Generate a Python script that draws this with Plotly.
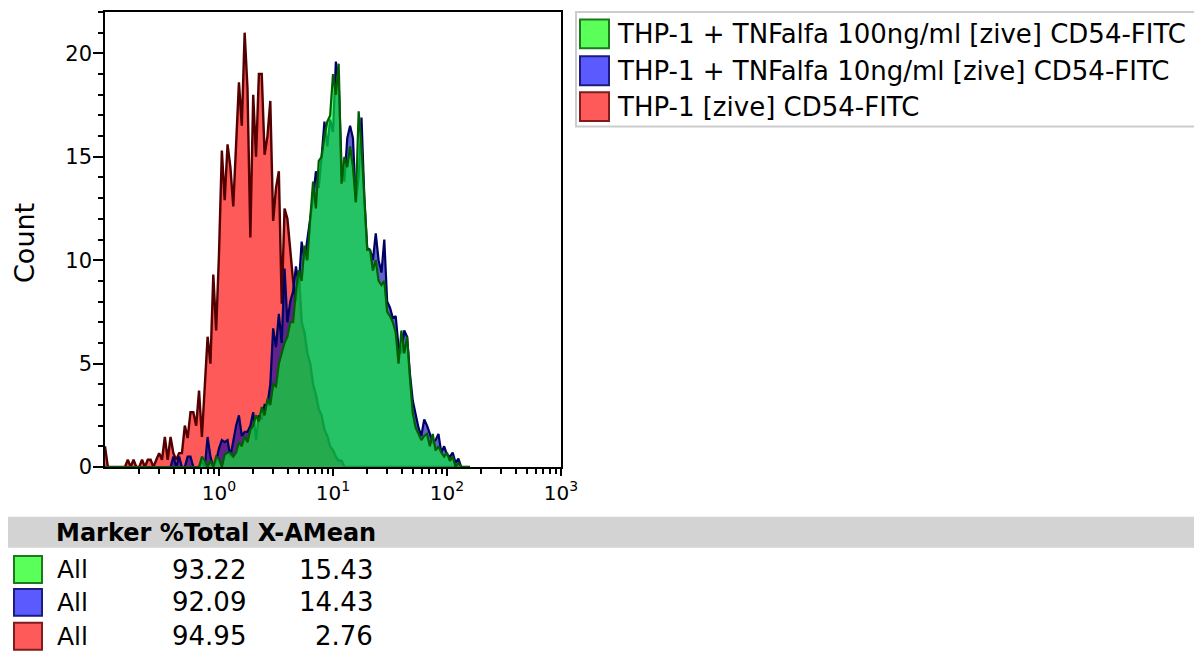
import plotly.graph_objects as go

# ---------------- data ----------------
# histogram channels (log-spaced, 0.025 decade per channel, from 10^-1)
channels = [round(10 ** (-1 + 0.025 * i), 5) for i in range(129)]

red_counts = [1.0, 0, 0, 0, 0, 0, 0, 0, 0.35, 0, 0.35, 0, 0, 0.35, 0, 0.35, 0.35, 0, 0.35, 0.67,
              0.35, 1.45, 0.35, 1.45, 0.67, 0.35, 0.67, 0.67, 2.0, 1.4, 2.65, 2.65, 2.0, 3.7, 1.45, 4.0,
              6.3, 5.0, 9.3, 6.6, 10.3, 15.3, 12.9, 15.6, 14.5, 12.6, 15.6, 18.6, 16.5, 21.0, 18.3, 11.1,
              18.0, 15.0, 19.0, 19.0, 15.1, 16.0, 17.7, 11.9, 13.5, 14.3, 7.9, 12.5, 12.0, 10.4, 9.0, 8.0,
              9.5, 7.0, 6.5, 5.5, 5.0, 4.0, 3.5, 2.8, 2.5, 1.8, 1.5, 1.0, 0.8, 0.5, 0.3, 0.3,
              0, 0, 0, 0, 0, 0, 0, 0, 0, 0, 0, 0, 0, 0, 0, 0, 0, 0, 0, 0, 0, 0, 0, 0, 0, 0, 0, 0, 0, 0,
              0, 0, 0, 0, 0, 0, 0, 0, 0, 0, 0, 0, 0, 0, 0]

blue_counts = [0, 0, 0, 0, 0, 0, 0, 0, 0, 0, 0, 0, 0, 0, 0, 0, 0, 0, 0, 0, 0, 0, 0, 0,
               0.5, 0, 0.5, 0, 0, 0.5, 0.5, 0, 0, 0, 0.3, 0, 1.45, 0.5, 0, 0.3, 0.9, 1.3, 1.2, 1.3,
               0.5, 1.3, 2.0, 2.5, 1.5, 1.7, 1.7, 2.0, 2.65, 1.3, 2.5, 2.3, 3.0, 3.0, 4.0, 6.7, 5.8,
               7.4, 6.0, 9.6, 7.0, 8.0, 8.5, 9.7, 8.8, 10.9, 10.0, 11.0, 12.0, 13.0, 14.3, 13.5, 15.0,
               16.7, 15.5, 16.8, 16.2, 19.6, 18.6, 14.5, 13.8, 15.9, 16.5, 15.9, 12.8, 14.0, 16.9, 13.0,
               10.6, 10.5, 10.0, 11.3, 10.0, 9.4, 11.0, 8.0, 7.7, 7.2, 7.3, 5.8, 5.5, 6.6, 6.3, 4.5,
               3.2, 2.6, 1.9, 1.5, 2.3, 2.0, 1.6, 1.2, 1.3, 1.6, 0.7, 1.0, 0.6, 0.5, 0.7, 0.2, 0.4,
               0, 0, 0, 0]

green_counts = [0, 0, 0, 0, 0, 0, 0, 0, 0, 0, 0, 0, 0, 0, 0, 0, 0, 0, 0, 0, 0, 0, 0, 0,
                0, 0, 0, 0, 0, 0, 0, 0, 0, 0, 0.5, 0.3, 0, 0.3, 0, 0.5, 0.4, 0, 0.6, 0.7,
                0.7, 0.5, 0.7, 1.2, 1.0, 1.5, 1.2, 1.8, 2.0, 2.5, 2.2, 2.9, 2.5, 3.3, 3.0, 4.0, 3.9,
                5.0, 5.5, 6.0, 6.3, 7.0, 7.0, 8.5, 9.5, 9.0, 10.7, 10.0, 12.0, 13.8, 12.5, 14.8, 15.0,
                16.0, 16.7, 17.0, 19.0, 18.0, 19.5, 13.7, 15.0, 14.5, 15.5, 14.5, 12.8, 17.2, 15.5, 13.0,
                10.5, 10.5, 9.5, 10.0, 9.0, 8.8, 9.0, 7.5, 7.3, 7.0, 6.5, 5.0, 6.6, 5.5, 6.3, 4.3,
                2.6, 1.9, 1.6, 1.3, 1.5, 1.6, 1.0, 1.6, 0.8, 1.0, 0.7, 0.5, 0.7, 0.3, 0.5, 0, 0.2,
                0, 0, 0, 0]

legend_labels = ["THP-1 + TNFalfa 100ng/ml [zive] CD54-FITC",
                 "THP-1 + TNFalfa 10ng/ml [zive] CD54-FITC",
                 "THP-1 [zive] CD54-FITC"]
table_header = "Marker %Total X-AMean"
table_marker = ["All", "All", "All"]
table_total = ["93.22", "92.09", "94.95"]
table_mean = ["15.43", "14.43", "2.76"]

x_tickvals = [1, 10, 100, 1000]
x_ticktext = ["10<sup>0</sup>", "10<sup>1</sup>", "10<sup>2</sup>", "10<sup>3</sup>"]
x_minor = [m * 10 ** d for d in (-1, 0, 1, 2) for m in range(2, 10)]

# ---------------- styling ----------------
FONT = "DejaVu Sans"
OFF = 8                      # page body margin of the html page
W, H = 1202 - OFF, 652 - OFF
L, R, T, B = 105, 561, 10, 467  # plot area in target-screen px


def px(x):
    return (x - L) / (R - L)


def py(y):
    return (B - y) / (B - T)


fig = go.Figure()

series = [
    (red_counts, "rgb(255,90,90)", "rgb(85,0,0)", 2.4),
    (blue_counts, "rgba(0,0,170,0.62)", "rgb(0,0,100)", 2.2),
    (green_counts, "rgba(0,255,40,0.62)", "rgb(0,95,0)", 2.2),
]
for vals, fillc, linec, lw in series:
    fig.add_trace(go.Scatter(x=channels, y=vals, mode="lines", fill="tozeroy",
                             fillcolor=fillc, line=dict(color=linec, width=lw),
                             showlegend=False, hoverinfo="skip"))

fig.update_layout(
    width=W, height=H,
    margin=dict(l=L - OFF, r=1202 - R, t=T - OFF, b=652 - B, pad=0),
    paper_bgcolor="white", plot_bgcolor="white",
    font=dict(family=FONT, color="black"),
    xaxis=dict(type="log", range=[-1, 3], tickvals=x_tickvals, ticktext=x_ticktext,
               ticks="outside", ticklen=7, tickwidth=1.5, tickcolor="black",
               minor=dict(tickvals=x_minor, ticks="outside", ticklen=5, tickwidth=1.5,
                          tickcolor="black", showgrid=False),
               showline=True, linecolor="black", linewidth=1.5, mirror=True,
               showgrid=False, zeroline=False, layer="below traces",
               tickfont=dict(size=20, family=FONT, color="black")),
    yaxis=dict(range=[0, 22], tickvals=[0, 5, 10, 15, 20],
               ticks="outside", ticklen=10, tickwidth=1.5, tickcolor="black",
               minor=dict(dtick=1, ticks="outside", ticklen=5, tickwidth=1.5,
                          tickcolor="black", showgrid=False),
               showline=True, linecolor="black", linewidth=1.5, mirror=True,
               showgrid=False, zeroline=False, ticklabelstandoff=-3,
               tickfont=dict(size=21, family=FONT, color="black")),
)

shapes = []
annotations = []

# y-axis title
annotations.append(dict(xref="paper", yref="paper", x=px(25), y=py(242), text="Count",
                        textangle=-90, showarrow=False, xanchor="center", yanchor="middle",
                        font=dict(size=27, family=FONT, color="black")))

# legend box
shapes.append(dict(type="rect", xref="paper", yref="paper", x0=px(576), x1=px(1196),
                   y0=py(125), y1=py(10), line=dict(color="#cccccc", width=2),
                   fillcolor="white", layer="above"))
sw_fill = ["#5aff5a", "#5a5aff", "#ff5a5a"]
sw_line = ["#1c7a1c", "#1c1c80", "#801c1c"]
leg_rows = [32, 69, 105]
for k in range(3):
    yc = leg_rows[k]
    shapes.append(dict(type="rect", xref="paper", yref="paper", x0=px(580), x1=px(609),
                       y0=py(yc + 14.5), y1=py(yc - 14.5),
                       line=dict(color=sw_line[k], width=2), fillcolor=sw_fill[k]))
    annotations.append(dict(xref="paper", yref="paper", x=px(615), y=py(yc),
                            text=legend_labels[k], showarrow=False, xanchor="left",
                            yanchor="middle", font=dict(size=26, family=FONT, color="black")))

# stats table
shapes.append(dict(type="rect", xref="paper", yref="paper", x0=px(5), x1=px(1205),
                   y0=py(548), y1=py(517), line=dict(width=0), fillcolor="#d3d3d3"))
annotations.append(dict(xref="paper", yref="paper", x=px(54), y=py(533),
                        text="<b>" + table_header + "</b>", showarrow=False, xanchor="left",
                        yanchor="middle", font=dict(size=24, family=FONT, color="black")))
tab_rows = [570, 603, 637]
for k in range(3):
    yc = tab_rows[k]
    shapes.append(dict(type="rect", xref="paper", yref="paper", x0=px(14), x1=px(42),
                       y0=py(yc + 13.5), y1=py(yc - 13.5),
                       line=dict(color=sw_line[k], width=2), fillcolor=sw_fill[k]))
    annotations.append(dict(xref="paper", yref="paper", x=px(55), y=py(yc),
                            text=table_marker[k], showarrow=False, xanchor="left",
                            yanchor="middle", font=dict(size=25, family=FONT, color="black")))
    annotations.append(dict(xref="paper", yref="paper", x=px(248), y=py(yc),
                            text=table_total[k], showarrow=False, xanchor="right",
                            yanchor="middle", font=dict(size=26, family=FONT, color="black")))
    annotations.append(dict(xref="paper", yref="paper", x=px(375), y=py(yc),
                            text=table_mean[k], showarrow=False, xanchor="right",
                            yanchor="middle", font=dict(size=26, family=FONT, color="black")))

fig.update_layout(shapes=shapes, annotations=annotations)
fig.write_html("out.html")
